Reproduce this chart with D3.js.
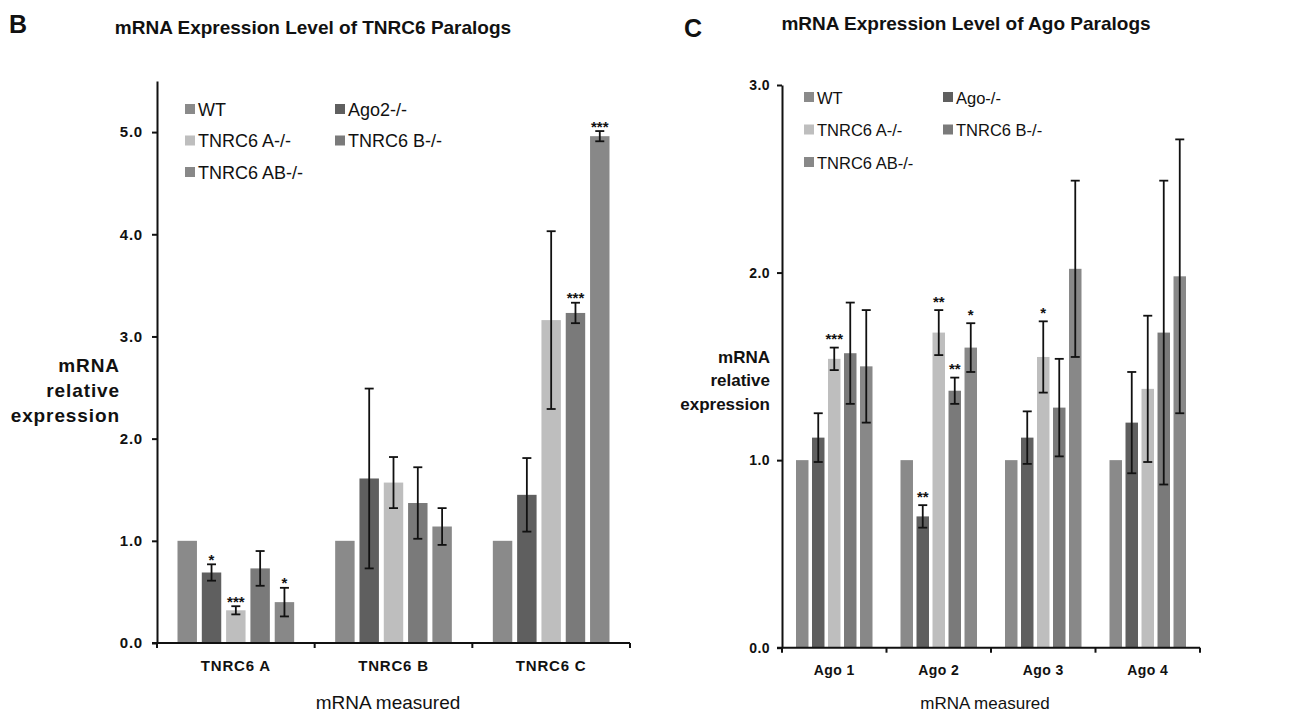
<!DOCTYPE html>
<html>
<head>
<meta charset="utf-8">
<script src="https://cdn.jsdelivr.net/npm/d3@7"></script>
<style>
  body { margin: 0; background: #fff; }
  svg text { font-family: "Liberation Sans", Arial, Helvetica, sans-serif; fill: #111; }
</style>
</head>
<body>
<svg id="chart" width="1316" height="713"></svg>
<script>
// ---- data ----
const seriesColors = ["#8a8a8a", "#5f5f5f", "#bebebe", "#7a7a7a", "#888888"];

// panel B
const tnrcCats = ["TNRC6 A", "TNRC6 B", "TNRC6 C"];
const tnrcSeries = ["WT", "Ago2-/-", "TNRC6 A-/-", "TNRC6 B-/-", "TNRC6 AB-/-"];
const tnrcMeans = [
  [1.0, 0.69, 0.32, 0.73, 0.40],
  [1.0, 1.61, 1.57, 1.37, 1.14],
  [1.0, 1.45, 3.16, 3.23, 4.96]
];
const tnrcErrs = [
  [0, 0.08, 0.04, 0.17, 0.14],
  [0, 0.88, 0.25, 0.35, 0.18],
  [0, 0.36, 0.87, 0.10, 0.05]
];
const tnrcStars = [
  ["", "*", "***", "", "*"],
  ["", "", "", "", ""],
  ["", "", "", "***", "***"]
];
const tnrcTicks = [0, 1, 2, 3, 4, 5];

// panel C
const agoCats = ["Ago 1", "Ago 2", "Ago 3", "Ago 4"];
const agoSeries = ["WT", "Ago-/-", "TNRC6 A-/-", "TNRC6 B-/-", "TNRC6 AB-/-"];
const agoMeans = [
  [1.0, 1.12, 1.54, 1.57, 1.50],
  [1.0, 0.70, 1.68, 1.37, 1.60],
  [1.0, 1.12, 1.55, 1.28, 2.02],
  [1.0, 1.20, 1.38, 1.68, 1.98]
];
const agoErrs = [
  [0, 0.13, 0.06, 0.27, 0.30],
  [0, 0.06, 0.12, 0.07, 0.13],
  [0, 0.14, 0.19, 0.26, 0.47],
  [0, 0.27, 0.39, 0.81, 0.73]
];
const agoStars = [
  ["", "", "***", "", ""],
  ["", "**", "**", "**", "*"],
  ["", "", "*", "", ""],
  ["", "", "", "", ""]
];
const agoTicks = [0, 1, 2, 3];

const svg = d3.select("#chart");

function drawPanel(cfg) {
  const g = svg.append("g");

  const y = d3.scaleLinear().domain([0, cfg.yMax]).range([cfg.y0, cfg.yTop]);
  const x0 = d3.scaleBand().domain(cfg.cats).range([cfg.xLeft, cfg.xRight]).padding(0);
  const x1 = d3.scaleBand().domain(d3.range(cfg.series.length))
    .range([cfg.pad, x0.bandwidth() - cfg.pad])
    .paddingInner(cfg.inner).paddingOuter(0);

  // bars + error bars + significance stars
  cfg.cats.forEach((c, ci) => {
    const grp = g.append("g").attr("transform", `translate(${x0(c)},0)`);
    cfg.series.forEach((s, si) => {
      const v = cfg.means[ci][si];
      grp.append("rect")
        .attr("x", x1(si))
        .attr("y", y(v))
        .attr("width", x1.bandwidth())
        .attr("height", y(0) - y(v))
        .attr("fill", seriesColors[si]);
      const e = cfg.errs[ci][si];
      const cx = x1(si) + x1.bandwidth() / 2;
      if (e > 0) {
        const top = y(v + e), bot = y(v - e);
        grp.append("line").attr("x1", cx).attr("x2", cx).attr("y1", top).attr("y2", bot)
          .attr("stroke", "#111").attr("stroke-width", 1.8);
        [top, bot].forEach(yy => {
          grp.append("line").attr("x1", cx - 4.5).attr("x2", cx + 4.5).attr("y1", yy).attr("y2", yy)
            .attr("stroke", "#111").attr("stroke-width", 1.8);
        });
      }
      const star = cfg.stars[ci][si];
      if (star) {
        grp.append("text")
          .attr("x", cx)
          .attr("y", y(v + e) - cfg.starGap + 8.6)
          .attr("text-anchor", "middle")
          .style("font-size", "15px")
          .style("font-weight", "bold")
          .text(star);
      }
    });
  });

  // y axis
  const yAxis = d3.axisLeft(y).tickValues(cfg.ticks).tickFormat(d3.format(".1f"))
    .tickSize(5).tickPadding(cfg.tickPad).tickSizeOuter(0);
  const ya = g.append("g").attr("transform", `translate(${cfg.xLeft},0)`).call(yAxis);
  ya.select(".domain").attr("stroke", "#111").attr("stroke-width", 2);
  ya.selectAll(".tick line").attr("stroke", "#111").attr("stroke-width", 2);
  ya.selectAll(".tick text")
    .style("font-size", cfg.tickFont + "px").style("font-weight", "bold")
    .style("letter-spacing", cfg.tickSpacing + "px")
    .style("font-family", "'Liberation Sans', Arial, sans-serif").attr("fill", "#111");

  // x axis: line, ticks at category boundaries, labels centered
  g.append("line").attr("x1", cfg.xLeft - 5).attr("x2", cfg.xRight)
    .attr("y1", y(0)).attr("y2", y(0)).attr("stroke", "#111").attr("stroke-width", 2);
  const bounds = cfg.cats.map(c => x0(c)).concat([cfg.xRight]);
  bounds.forEach(bx => {
    g.append("line").attr("x1", bx).attr("x2", bx).attr("y1", y(0)).attr("y2", y(0) + 5)
      .attr("stroke", "#111").attr("stroke-width", 2);
  });
  cfg.cats.forEach(c => {
    g.append("text")
      .attr("x", x0(c) + x0.bandwidth() / 2)
      .attr("y", cfg.xLabY)
      .attr("text-anchor", "middle")
      .style("font-size", cfg.xLabFont + "px")
      .style("letter-spacing", cfg.tickSpacing + "px")
      .style("font-weight", "bold")
      .text(c);
  });

  // x title
  g.append("text")
    .attr("x", cfg.xTitleX)
    .attr("y", 709)
    .attr("text-anchor", "middle")
    .style("font-size", cfg.xTitleFont + "px")
    .text("mRNA measured");

  // y title
  ["mRNA", "relative", "expression"].forEach((t, i) => {
    g.append("text")
      .attr("x", cfg.yTitleX)
      .attr("y", cfg.yTitleY + i * cfg.yTitleGap)
      .attr("text-anchor", "end")
      .style("font-size", cfg.yTitleFont + "px")
      .style("letter-spacing", cfg.yTitleSpacing + "px")
      .style("font-weight", "bold")
      .text(t);
  });

  // legend
  cfg.series.forEach((s, si) => {
    const col = si % 2, row = Math.floor(si / 2);
    const lx = cfg.legX[col], ly = cfg.legY + row * cfg.legGap;
    g.append("rect").attr("x", lx).attr("y", ly - 5).attr("width", 10).attr("height", 10)
      .attr("fill", seriesColors[si]);
    g.append("text").attr("x", lx + 13).attr("y", ly + 6.5)
      .style("font-size", cfg.legFont + "px").text(s);
  });

  // title + panel letter
  g.append("text").attr("x", cfg.titleX).attr("y", cfg.titleY)
    .attr("text-anchor", "middle").style("font-size", "19px").style("font-weight", "bold")
    .text(cfg.title);
  g.append("text").attr("x", cfg.letterX).attr("y", cfg.letterY)
    .style("font-size", "25px").style("font-weight", "bold").text(cfg.letter);
}

drawPanel({
  cats: tnrcCats, series: tnrcSeries, means: tnrcMeans, errs: tnrcErrs, stars: tnrcStars,
  ticks: tnrcTicks, yMax: 5.5, y0: 643, yTop: 81,
  xLeft: 157, xRight: 630, pad: 20.5, inner: 0.2, starGap: 8,
  tickFont: 15, tickSpacing: 0.8, tickPad: 9, xLabFont: 15, xLabY: 671,
  xTitleX: 388, xTitleFont: 19,
  yTitleX: 120, yTitleY: 372, yTitleGap: 25, yTitleFont: 19, yTitleSpacing: 0.9,
  legX: [185, 335], legY: 109, legGap: 31.5, legFont: 18,
  title: "mRNA Expression Level of TNRC6 Paralogs", titleX: 313, titleY: 34,
  letter: "B", letterX: 9, letterY: 33
});

drawPanel({
  cats: agoCats, series: agoSeries, means: agoMeans, errs: agoErrs, stars: agoStars,
  ticks: agoTicks, yMax: 3, y0: 647.7, yTop: 85,
  xLeft: 782, xRight: 1200, pad: 14, inner: 0.22, starGap: 12,
  tickFont: 14, tickSpacing: 0.4, tickPad: 7, xLabFont: 14, xLabY: 675,
  xTitleX: 985, xTitleFont: 17,
  yTitleX: 770, yTitleY: 363, yTitleGap: 23.3, yTitleFont: 17, yTitleSpacing: 0,
  legX: [804, 943], legY: 97, legGap: 32.5, legFont: 16.5,
  title: "mRNA Expression Level of Ago Paralogs", titleX: 966, titleY: 30,
  letter: "C", letterX: 684, letterY: 37
});
</script>
</body>
</html>
